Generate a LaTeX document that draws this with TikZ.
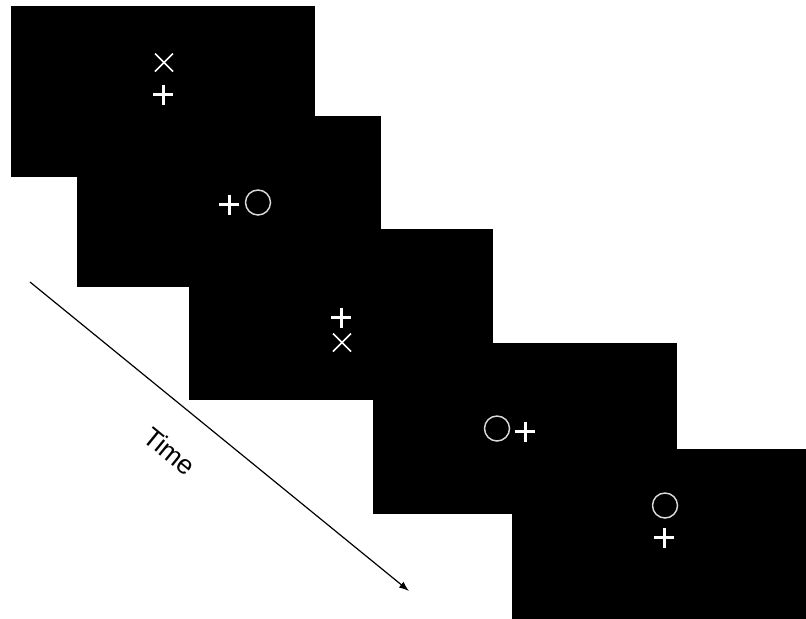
\documentclass[tikz,border=0pt]{standalone}
\usepackage{fontspec}
\setsansfont{Liberation Sans}
\usetikzlibrary{arrows.meta}
\tikzset{>=Latex,
  screen/.style={fill=black,inner sep=0pt,minimum width=228pt,minimum height=128.25pt},
  stim/.style={draw=white,line width=1.3pt},
  timeline/.style={->,line width=.9pt,>={Latex[length=7.5pt,width=5.5pt]}},
  fixplus/.pic={\draw[stim,line width=2.25pt](-10,0)--(10,0)(0,-10)--(0,10);},
  xmark/.pic={\draw[stim](-9,-9)--(9,9)(-9,9)--(9,-9);},
  ring/.pic={\draw[stim,draw=white!85!black,line width=1.1pt](0,0)circle(12.5);}}
\begin{document}
\begin{tikzpicture}[x=.75pt,y=-.75pt]
\useasboundingbox(0,0)rectangle(806,618);
\clip(0,0)rectangle(806,618);
% screens, each with the fixation cross and one cue
\foreach \n/\cx/\cy/\cue/\dx/\dy in {1/163/91.5/xmark/1/-32,2/229/201.5/ring/29/-2,
  3/341/314.5/xmark/1/25,4/525/428.5/ring/-28/-3,5/664/534.5/ring/1/-32}{
  \node[screen](s\n)at(\cx,\cy){};
  \coordinate(f\n)at([yshift=-2.25pt]s\n.center);
  \pic at(f\n){fixplus};
  \pic[shift={(\dx,\dy)}]at(f\n){\cue};
}
\coordinate(t0)at(30,282);\coordinate(t1)at(409,591);
\draw[timeline](t0)--(t1)node[pos=.44,sloped,yshift=-32pt,font=\sffamily\fontsize{20}{20}\selectfont]{Time};
\end{tikzpicture}
\end{document}
